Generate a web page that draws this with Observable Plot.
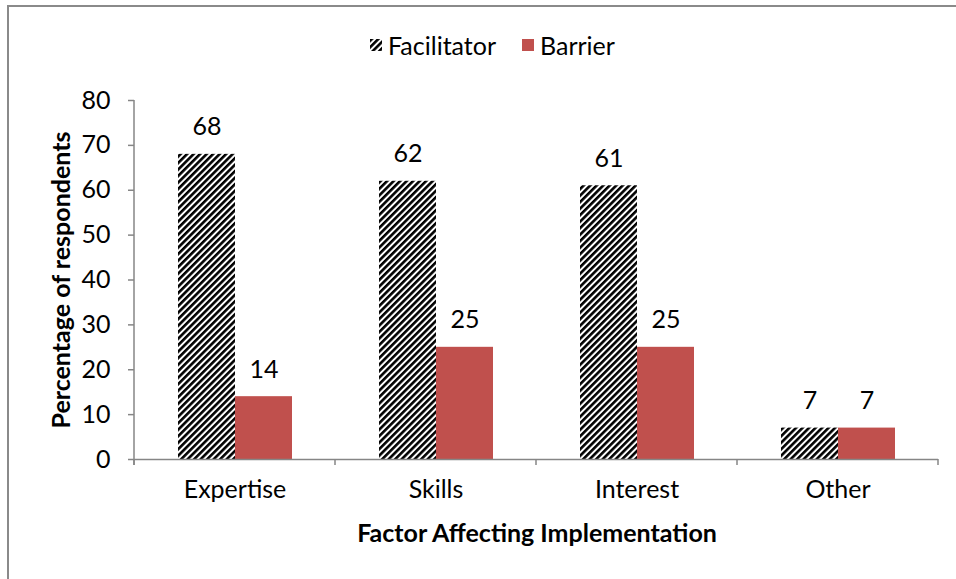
<!DOCTYPE html>
<html>
<head>
<meta charset="utf-8">
<script src="https://cdn.jsdelivr.net/npm/d3@7"></script>
<script src="https://cdn.jsdelivr.net/npm/@observablehq/plot@0.6"></script>
<style>
  html, body { margin: 0; padding: 0; background: #fff; }
  #wrap { position: relative; width: 956px; height: 579px; overflow: hidden; font-family: Lato, "Open Sans", sans-serif; color: #000; }
  #frame { position: absolute; left: 7px; top: 5px; width: 1200px; height: 900px; border-top: 2px solid #8a8a8a; border-left: 2px solid #8a8a8a; box-sizing: border-box; }
  #chart { position: absolute; left: 0; top: 0; }
  #legend { position: absolute; left: 370px; top: 30px; height: 30px; display: flex; align-items: center; font-size: 25px; }
  #legend .item { display: flex; align-items: center; }
  #legend .item + .item { margin-left: 26px; }
  #legend .sw { width: 12px; height: 12px; margin-right: 6px; display: block; }
  .title { position: absolute; font-weight: bold; font-size: 25px; white-space: nowrap; }
  #xtitle { left: 537px; top: 532px; transform: translate(-50%, -50%); }
  #ytitle { left: 60px; top: 280px; transform: translate(-50%, -50%) rotate(-90deg); }
</style>
</head>
<body>
<div id="wrap">
  <div id="frame"></div>
  <div id="chart"></div>
  <div id="legend"></div>
  <div class="title" id="xtitle">Factor Affecting Implementation</div>
  <div class="title" id="ytitle">Percentage of respondents</div>
</div>
<script>
// Survey results: share of respondents naming each factor as a facilitator or a barrier
const categories = ["Expertise", "Skills", "Interest", "Other"];
const series = ["Facilitator", "Barrier"];
const facilitator = [68, 62, 61, 7];
const barrier = [14, 25, 25, 7];
const yTicks = [0, 10, 20, 30, 40, 50, 60, 70, 80];

const barrierColor = "#C0504D";
const axisColor = "#868686";

const data = categories.flatMap((category, i) => [
  {category, series: "Facilitator", value: facilitator[i]},
  {category, series: "Barrier", value: barrier[i]}
]);

// Legend (also holds the diagonal hatch pattern used by the facilitator bars)
const legend = d3.select("#legend");
series.forEach((name) => {
  const item = legend.append("div").attr("class", "item");
  const sw = item.append("svg").attr("class", "sw").attr("width", 12).attr("height", 12);
  if (name === "Facilitator") {
    const p = sw.append("defs").append("pattern")
      .attr("id", "hatch")
      .attr("patternUnits", "userSpaceOnUse")
      .attr("width", 4.6).attr("height", 4.6)
      .attr("patternTransform", "rotate(45)");
    p.append("rect").attr("width", 4.6).attr("height", 4.6).attr("fill", "#fff");
    p.append("rect").attr("width", 2.6).attr("height", 4.6).attr("fill", "#000");
    sw.append("rect").attr("width", 12).attr("height", 12).attr("fill", "url(#hatch)");
  } else {
    sw.append("rect").attr("width", 12).attr("height", 12).attr("fill", barrierColor);
  }
  item.append("span").text(name);
});

const chart = Plot.plot({
  width: 956,
  height: 579,
  marginLeft: 133,
  marginRight: 17,
  marginTop: 100,
  marginBottom: 120,
  style: {fontFamily: "Lato, 'Open Sans', sans-serif", fontSize: "25px", color: "#000", background: "transparent", overflow: "visible"},
  fx: {domain: categories, padding: 0, label: null},
  x: {domain: series, paddingInner: 0, paddingOuter: 0.752, axis: null},
  y: {domain: [0, 80], label: null},
  marks: [
    Plot.barY(data, {filter: (d) => d.series === "Facilitator", fx: "category", x: "series", y: "value", fill: "url(#hatch)"}),
    Plot.barY(data, {filter: (d) => d.series === "Barrier", fx: "category", x: "series", y: "value", fill: barrierColor}),
    Plot.text(data, {fx: "category", x: "series", y: "value", text: (d) => String(d.value), dy: -27, fontSize: 25, fill: "#000"}),
    Plot.ruleY([0], {stroke: axisColor, strokeWidth: 1.5}),
    Plot.axisY({ticks: yTicks, tickSize: 6, tickPadding: 18, stroke: axisColor, fill: "#000", strokeWidth: 1.5, fontSize: 25, label: null}),
    Plot.axisFx({anchor: "bottom", tickSize: 0, tickPadding: 21, fill: "#000", fontSize: 25, label: null})
  ]
});
document.getElementById("chart").appendChild(chart);

// Axis line on the left and category divider ticks below the baseline
const fx = chart.scale("fx");
const y = chart.scale("y");
const svg = d3.select(chart);
const y0 = y.apply(0);
const edges = fx.domain.map((d) => fx.apply(d));
edges.push(fx.apply(fx.domain[fx.domain.length - 1]) + fx.bandwidth);
svg.append("line")
  .attr("x1", edges[0]).attr("x2", edges[0])
  .attr("y1", y.apply(80)).attr("y2", y0 + 6)
  .attr("stroke", axisColor).attr("stroke-width", 1.5);
svg.selectAll(".divider").data(edges).join("line")
  .attr("class", "divider")
  .attr("x1", (d) => d).attr("x2", (d) => d)
  .attr("y1", y0).attr("y2", y0 + 6)
  .attr("stroke", axisColor).attr("stroke-width", 1.5);
</script>
</body>
</html>
